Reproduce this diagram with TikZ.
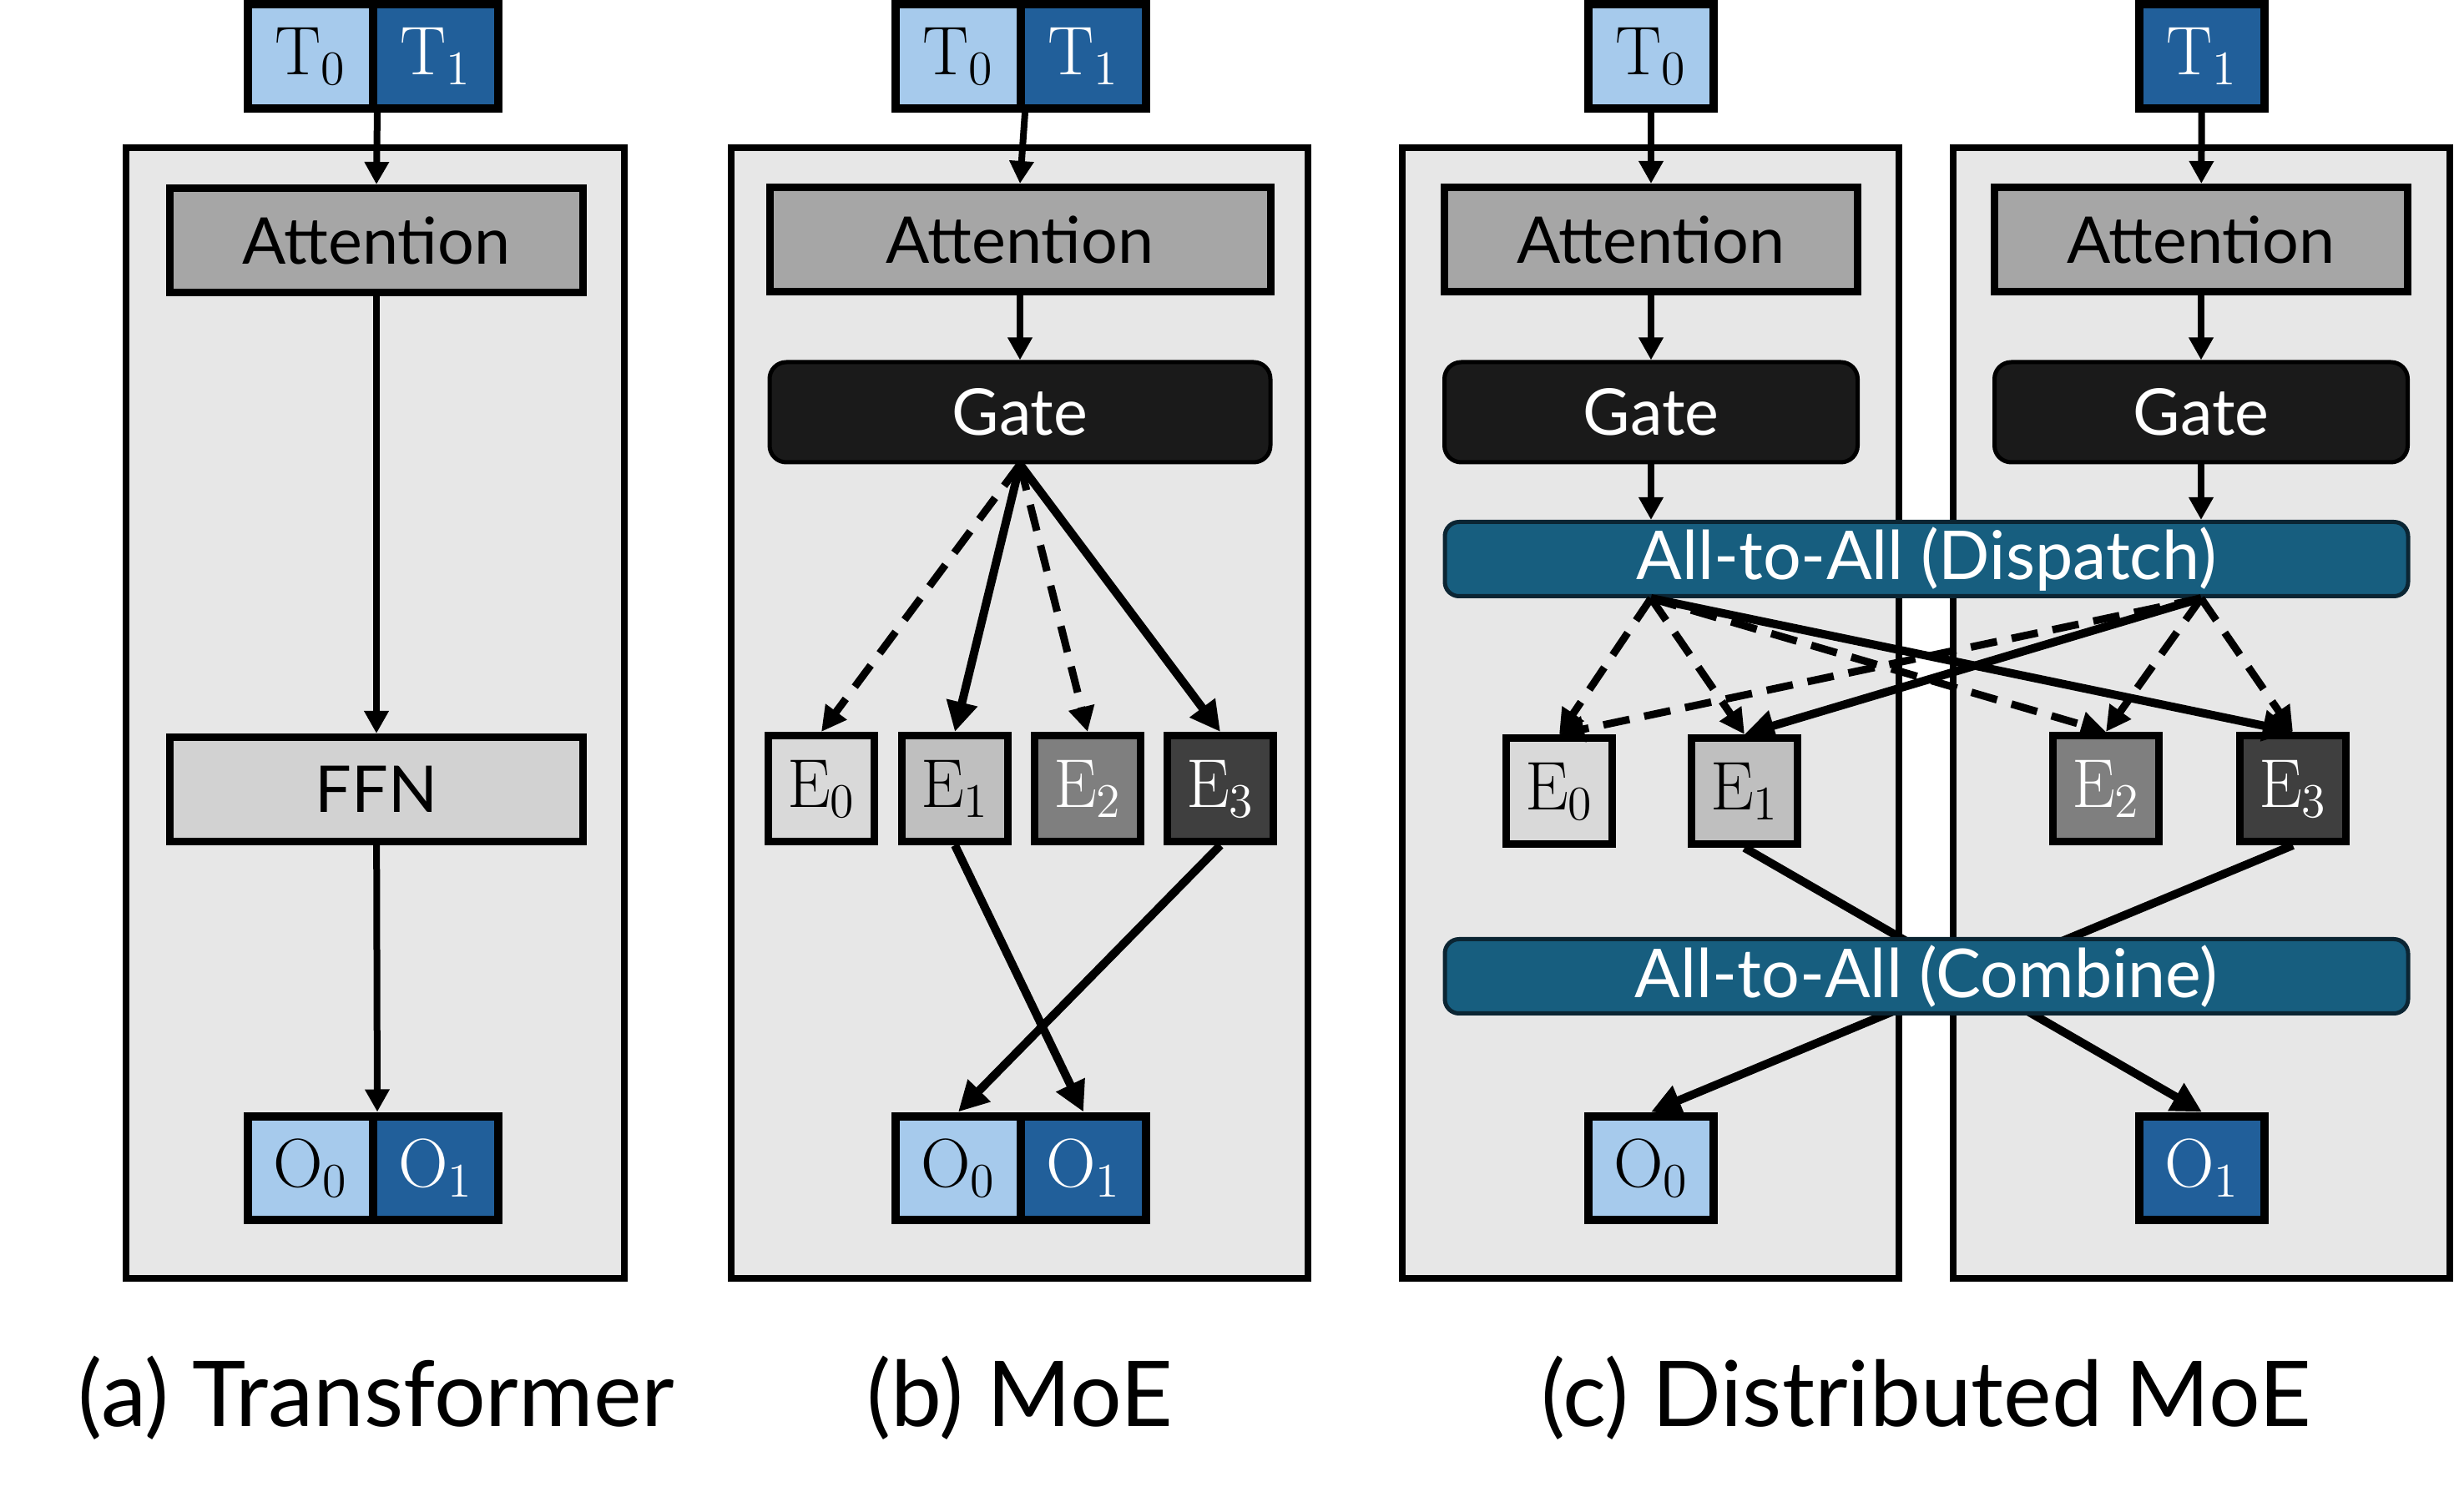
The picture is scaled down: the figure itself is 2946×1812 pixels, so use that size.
\RequirePackage{fix-cm}
\documentclass[tikz,border=0pt]{standalone}
\usepackage[no-math]{fontspec}
\setmainfont{Lato}
\usepackage{tikz}
\usetikzlibrary{arrows.meta}

\definecolor{tokA}{HTML}{A6CAEC}
\definecolor{tokB}{HTML}{215F9A}
\definecolor{panelbg}{HTML}{E7E7E7}
\definecolor{attnfill}{HTML}{A6A6A6}
\definecolor{ffnfill}{HTML}{D2D2D2}
\definecolor{gatefill}{HTML}{1A1A1A}
\definecolor{expA}{HTML}{D9D9D9}
\definecolor{expB}{HTML}{BFBFBF}
\definecolor{expC}{HTML}{7F7F7F}
\definecolor{expD}{HTML}{3F3F3F}
\definecolor{commfill}{HTML}{175E7F}
\definecolor{commline}{HTML}{0B2533}

\begin{document}
\begin{tikzpicture}[
    x=0.1mm, y=-0.1mm,
    panel/.style={rectangle, draw, line width=0.8mm, fill=panelbg, minimum width=#1, minimum height=135.5mm},
    panel/.default=59.7mm,
    tok/.style={rectangle, draw, line width=1mm, minimum width=15mm, minimum height=12.5mm, inner sep=0pt, font=\fontsize{23.5}{23.5}\selectfont, fill=#1},
    blk/.style={rectangle, draw, line width=0.9mm, minimum width=49.5mm, minimum height=12.5mm, inner sep=0pt, font=\fontsize{22}{22}\selectfont, fill=#1},
    gatebox/.style={rectangle, draw, rounded corners=2mm, line width=0.5mm, minimum width=#1, minimum height=12mm, inner sep=0pt, font=\fontsize{22}{22}\selectfont, fill=gatefill, text=white},
    expert/.style={rectangle, draw, line width=0.9mm, minimum size=12.7mm, inner sep=0pt, font=\fontsize{23.5}{23.5}\selectfont, fill=#1},
    comm/.style={rectangle, draw=commline, rounded corners=1.7mm, line width=0.5mm, minimum width=115.4mm, minimum height=8.9mm, inner sep=0pt, font=\fontsize{23}{23}\selectfont, fill=commfill, text=white},
    arr/.style={-{Triangle[length=2.7mm, width=2.8mm]}, line width=0.8mm},
    earr/.style={-{Triangle[length=3.6mm, width=3.6mm]}, line width=1mm},
    darr/.style={-{Triangle[length=3mm, width=3mm]}, line width=0.9mm, dash pattern=on 3.2mm off 1.8mm},
    subcap/.style={anchor=base, font=\fontsize{31}{37}\selectfont},
]
\useasboundingbox (0,0) rectangle (2946,1812);

\node[panel] (pa) at (449.5, 854.5) {};
\node[panel=69.1mm] (pb) at (1221.5, 854.5) {};
\node[panel=59.5mm] (pc0) at (1977.5, 854.5) {};
\node[panel=59.5mm] (pc1) at (2637.5, 854.5) {};

\node[tok=tokA] (ta0) at (372, 67.5) {\(\mathrm{T}_0\)};
\node[tok=tokB, text=white] (ta1) at (522, 67.5) {\(\mathrm{T}_1\)};
\node[blk=attnfill] (atta) at (451, 288) {Attention};
\node[blk=ffnfill] (ffna) at (451, 946) {FFN};
\node[tok=tokA] (oa0) at (372, 1400) {\(\mathrm{O}_0\)};
\node[tok=tokB, text=white] (oa1) at (522, 1400) {\(\mathrm{O}_1\)};

\draw[arr] (ta0.south east) -- (atta.north);
\draw[arr] (atta) -- (ffna);
\draw[arr] (ffna) -- (oa0.north east);

\node[tok=tokA] (tb0) at (1148, 67.5) {\(\mathrm{T}_0\)};
\node[tok=tokB, text=white] (tb1) at (1298, 67.5) {\(\mathrm{T}_1\)};
\node[blk=attnfill, minimum width=60mm] (attb) at (1222, 287) {Attention};
\node[gatebox=60mm] (gateb) at (1222, 494) {Gate};
\node[expert=expA] (eb0) at (984, 945) {\(\mathrm{E}_0\)};
\node[expert=expB] (eb1) at (1144, 945) {\(\mathrm{E}_1\)};
\node[expert=expC, text=white] (eb2) at (1303, 945) {\(\mathrm{E}_2\)};
\node[expert=expD, text=white] (eb3) at (1462, 945) {\(\mathrm{E}_3\)};
\node[tok=tokA] (ob0) at (1148, 1400) {\(\mathrm{O}_0\)};
\node[tok=tokB, text=white] (ob1) at (1298, 1400) {\(\mathrm{O}_1\)};

\draw[arr] (tb0.south east) -- (attb.north);
\draw[arr] (attb) -- (gateb);
\draw[darr] (gateb.south) -- (eb0.north);
\draw[earr] (gateb.south) -- (eb1.north);
\draw[darr] (gateb.south) -- (eb2.north);
\draw[earr] (gateb.south) -- (eb3.north);
\draw[earr] (eb1.south) -- (ob1.north);
\draw[earr] (eb3.south) -- (ob0.north);

\node[tok=tokA] (tc0) at (1978, 67.5) {\(\mathrm{T}_0\)};
\node[tok=tokB, text=white] (tc1) at (2638, 67.5) {\(\mathrm{T}_1\)};
\node[blk=attnfill] (attc0) at (1978, 287) {Attention};
\node[blk=attnfill] (attc1) at (2637, 287) {Attention};
\node[gatebox=49.5mm] (gatec0) at (1978, 494) {Gate};
\node[gatebox=49.5mm] (gatec1) at (2637, 494) {Gate};
\node[comm] (dsp) at (2308, 670) {All-to-All (Dispatch)};
\node[expert=expA] (ec0) at (1868, 948) {\(\mathrm{E}_0\)};
\node[expert=expB] (ec1) at (2090, 948) {\(\mathrm{E}_1\)};
\node[expert=expC, text=white] (ec2) at (2523, 945) {\(\mathrm{E}_2\)};
\node[expert=expD, text=white] (ec3) at (2747, 945) {\(\mathrm{E}_3\)};
\node[tok=tokA] (oc0) at (1978, 1400) {\(\mathrm{O}_0\)};
\node[tok=tokB, text=white] (oc1) at (2638, 1400) {\(\mathrm{O}_1\)};

\coordinate (dspinl) at (gatec0 |- dsp.north);
\coordinate (dspinr) at (gatec1 |- dsp.north);
\coordinate (dspl) at (gatec0 |- dsp.south);
\coordinate (dspr) at (gatec1 |- dsp.south);

\draw[arr] (tc0) -- (attc0);
\draw[arr] (tc1) -- (attc1);
\draw[arr] (attc0) -- (gatec0);
\draw[arr] (attc1) -- (gatec1);
\draw[arr] (gatec0) -- (dspinl);
\draw[arr] (gatec1) -- (dspinr);

\draw[darr] (dspl) -- (ec0.north);
\draw[darr] (dspl) -- (ec1.north);
\draw[darr] (dspl) -- (ec2.north);
\draw[earr] (dspl) -- (ec3.north);
\draw[darr] (dspr) -- (ec0.north);
\draw[earr] (dspr) -- (ec1.north);
\draw[darr] (dspr) -- (ec2.north);
\draw[darr] (dspr) -- (ec3.north);

\draw[earr] (ec1.south) -- (oc1.north);
\draw[earr] (ec3.south) -- (oc0.north);
\node[comm] (cmb) at (2308, 1170) {All-to-All (Combine)};

\node[subcap] (capa) at (451, 1709) {(a) Transformer};
\node[subcap] (capb) at (1222, 1709) {(b) MoE};
\node[subcap] (capc) at (2308, 1709) {(c) Distributed MoE};

\end{tikzpicture}
\end{document}
